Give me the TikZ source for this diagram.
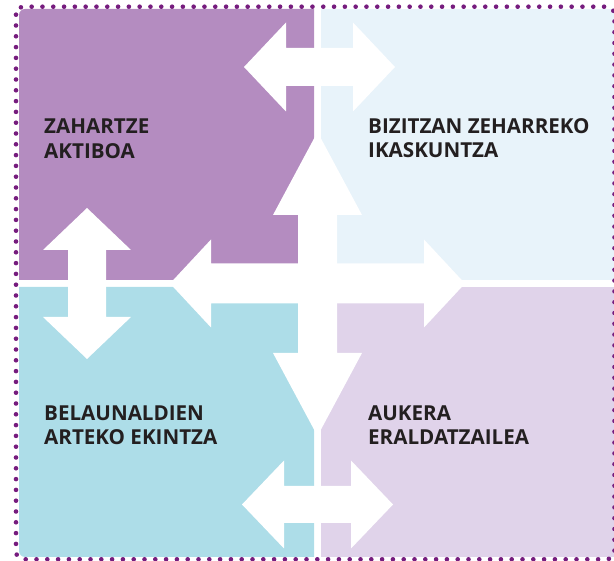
\documentclass[tikz,border=0pt]{standalone}
\usepackage{fontspec}
\setmainfont{Open Sans}

\definecolor{agingpurple}{HTML}{B48CC0}
\definecolor{learnblue}{HTML}{E8F3FA}
\definecolor{genscyan}{HTML}{ADDDE8}
\definecolor{choicelilac}{HTML}{E0D3EA}
\definecolor{dotpurple}{HTML}{761C7E}
\definecolor{labelink}{HTML}{231F20}

\tikzset{
  whitearrow/.style={fill=white},
  quadlabel/.style={anchor=base west, align=left, inner sep=0pt, text=labelink,
    font=\fontsize{20.6}{24.3}\selectfont\bfseries},
  dotframe/.style={draw=dotpurple, line width=4.6pt, line cap=round,
    dash pattern=on 0pt off 10.8pt, rounded corners=8pt},
}

% cx, cy, rotation, half length, head length, head half width, shaft half width
\newcommand{\twoway}[7]{%
  \fill[whitearrow, shift={(#1,#2)}, rotate=#3]
    (-#4,0) -- (-#4+#5,-#6) -- (-#4+#5,-#7) -- (#4-#5,-#7) -- (#4-#5,-#6) -- (#4,0)
    -- (#4-#5,#6) -- (#4-#5,#7) -- (-#4+#5,#7) -- (-#4+#5,#6) -- cycle;
}

\begin{document}
\begin{tikzpicture}[x=1pt,y=-1pt]
\useasboundingbox (0,0) rectangle (614,561);

% quadrants
\fill[agingpurple] (314,280) -- (19,280) [rounded corners=6pt] -- (19,9) [sharp corners] -- (314,9) -- cycle;
\fill[learnblue] (321,9) rectangle (614,280);
\fill[genscyan] (314,287) -- (19,287) [rounded corners=6pt] -- (19,557) [sharp corners] -- (314,557) -- cycle;
\fill[choicelilac] (321,287) rectangle (614,557);

% arrows
\twoway{319.5}{67}{0}{75.5}{42}{44.5}{19}
\twoway{317.5}{504.5}{0}{75.5}{42}{44}{18.5}
\twoway{87}{283.5}{90}{75.5}{42}{44}{19}
\twoway{317.5}{283.5}{0}{147.5}{41}{44}{20}
\twoway{317.5}{284}{90}{152}{83}{44.5}{19.5}

% labels (anchored on the last line)
\node[quadlabel] (aging) at (44,158.3) {ZAHARTZE\\AKTIBOA};
\node[quadlabel] (learning) at (368,158) {BIZITZAN ZEHARREKO\\IKASKUNTZA};
\node[quadlabel] (intergen) at (44,445) {BELAUNALDIEN\\ARTEKO EKINTZA};
\node[quadlabel] (choice) at (368,445) {AUKERA\\ERALDATZAILEA};

% dotted frame
\draw[dotframe] (16,6.7) rectangle (614.5,559.3);
\end{tikzpicture}
\end{document}
